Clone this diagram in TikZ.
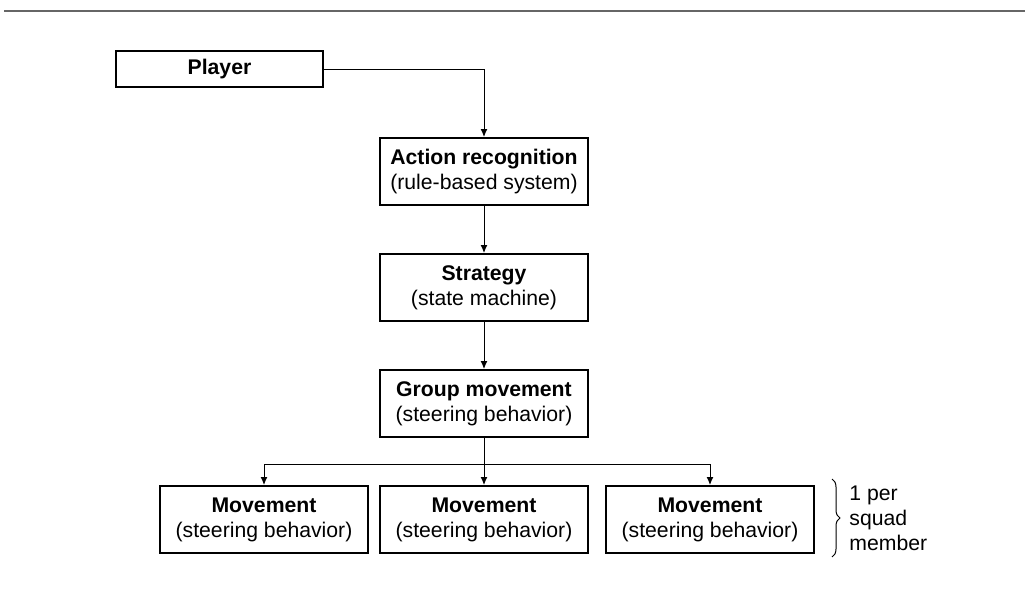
\documentclass[tikz,border=0pt]{standalone}
\usepackage{fontspec}
\setmainfont{Liberation Sans}
\usetikzlibrary{arrows.meta,positioning,decorations.pathreplacing}

\begin{document}
\begin{tikzpicture}[
  x=0.5pt,y=-0.5pt,
  node distance=23.5pt and 6pt,
  box/.style={draw,line width=1pt,align=center,minimum width=104pt,
              minimum height=33.5pt,inner sep=0pt,
              font=\fontsize{10.6}{12.5}\selectfont},
  arr/.style={-{Latex[length=4pt,width=3.5pt]},line width=0.5pt},
  note/.style={align=left,inner sep=0pt,font=\fontsize{10.6}{12.5}\selectfont}]
\useasboundingbox (0,0) rectangle (1025,589);
\draw[line width=1pt,black!60] (4,10.5) -- (1025,10.5);
\node[box,minimum height=18pt,minimum width=103.5pt] (player) at (219.5,69) {\textbf{Player}};
\node[box] (action) at (484,171.5) {\textbf{Action recognition}\\(rule-based system)};
\node[box,below=of action] (strategy) {\textbf{Strategy}\\(state machine)};
\node[box,below=of strategy] (group) {\textbf{Group movement}\\(steering behavior)};
\node[box,below=of group] (move2) {\textbf{Movement}\\(steering behavior)};
\node[box,left=5pt of move2] (move1) {\textbf{Movement}\\(steering behavior)};
\node[box,right=8pt of move2] (move3) {\textbf{Movement}\\(steering behavior)};
\draw[arr] (player.east) -| (action.north);
\draw[arr] (action) -- (strategy);
\draw[arr] (strategy) -- (group);
\draw[arr] (group) -- (move2);
\coordinate[below=13pt of group] (split);
\draw[arr] (split) -| (move1.north);
\draw[arr] (split) -| (move3.north);
% brace for the squad members
\coordinate (brtop) at (832,479);
\coordinate (brbot) at (832,557);
\draw[line width=0.5pt,decorate,decoration={brace,amplitude=4pt}] (brtop) -- (brbot);
\node[note,anchor=west] (squad) at (849,518) {1 per\\squad\\member};
\end{tikzpicture}
\end{document}
